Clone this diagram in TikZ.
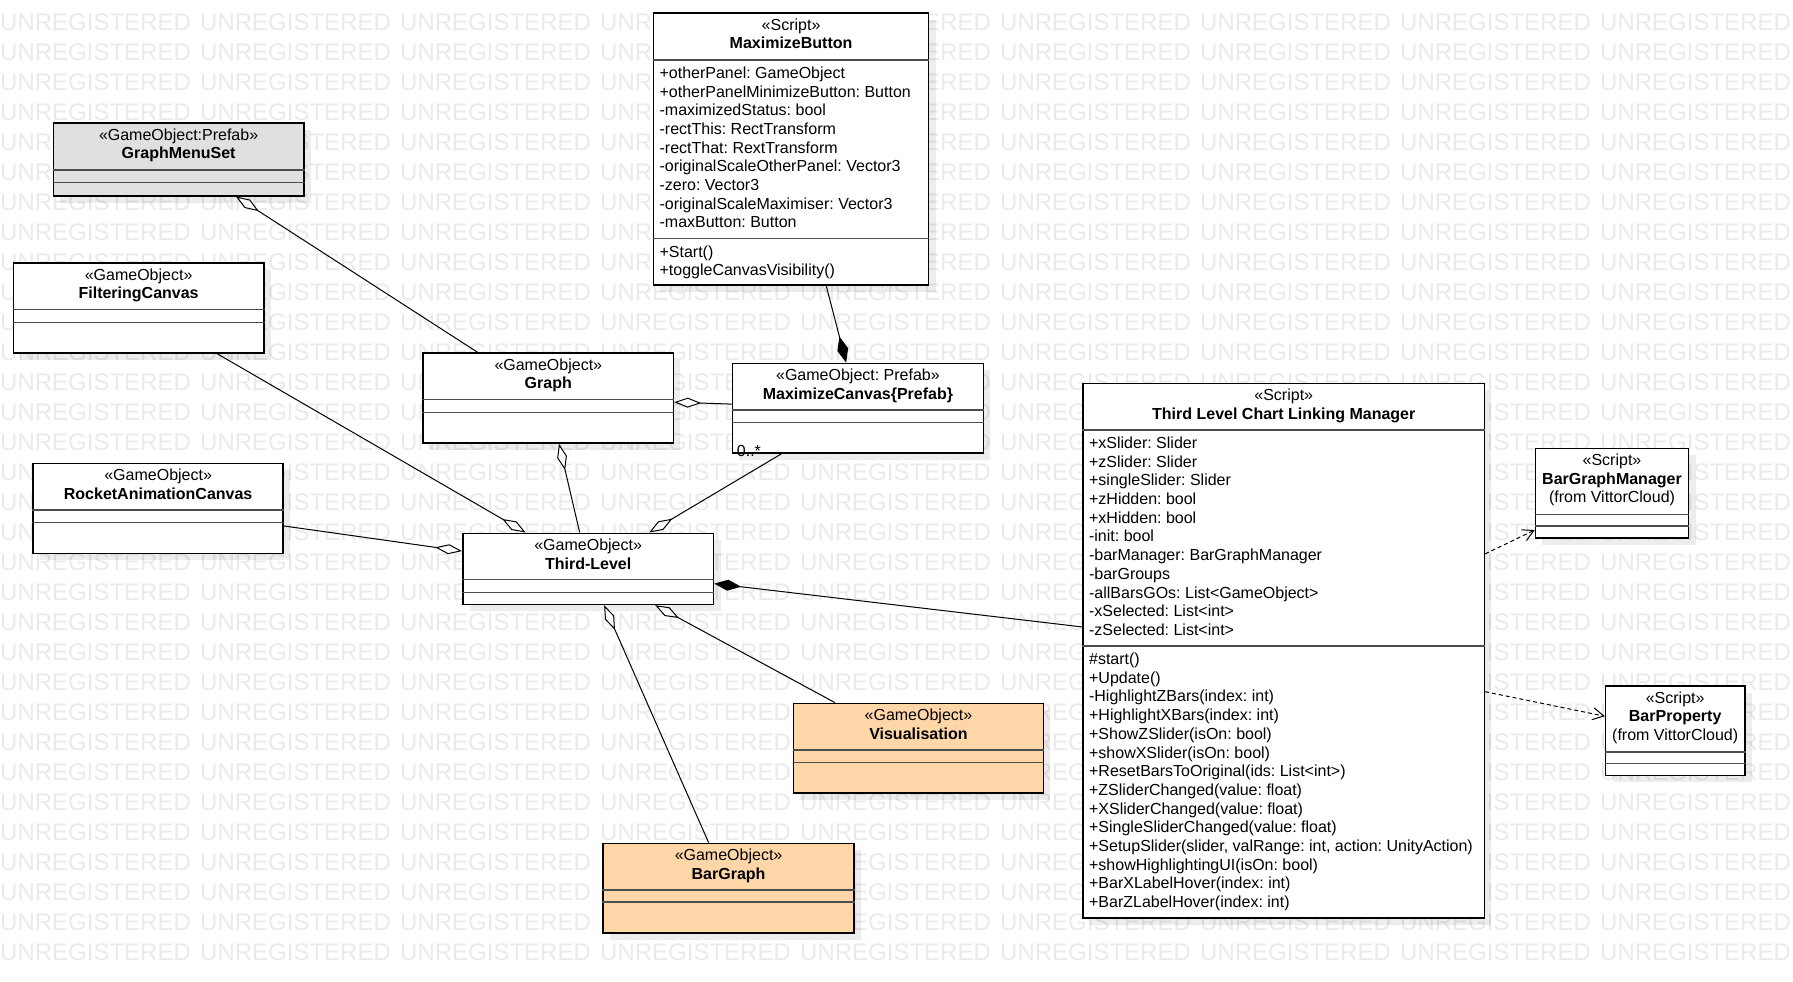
\documentclass[tikz,border=0pt]{standalone}
\usepackage{fontspec}
\setmainfont{Liberation Sans}
\usetikzlibrary{positioning,calc,arrows.meta,shadows}

\definecolor{peach}{RGB}{255,214,168}
\definecolor{prefabgray}{RGB}{224,224,224}
\definecolor{watermark}{RGB}{234,234,234}

\tikzset{
    classbox/.style = {draw=black, fill=white, line width=1.5pt, rectangle, inner sep=0pt,
        general shadow={fill=black, opacity=0.07, shadow xshift=7pt, shadow yshift=-7pt}},
    divider/.style = {draw=black!70, line width=1.5pt},
    classhead/.style = {align=center, inner sep=0pt, font=\fontsize{16}{18.5}\selectfont\frenchspacing},
    members/.style = {align=left, inner sep=0pt, font=\fontsize{16}{18.7}\selectfont\frenchspacing},
    aggr/.style = {line width=1pt, arrows={Diamond[length=27pt,width=10pt,fill=white]-}},
    compo/.style = {line width=1pt, arrows={Diamond[length=27pt,width=11pt]-}},
    depend/.style = {line width=1pt, dash pattern=on 4pt off 3pt, arrows={-Straight Barb[length=11pt,width=12pt]}},
    wmark/.style = {text=watermark, inner sep=0pt, anchor=base west, font=\fontsize{24}{24}\selectfont},
}

% name, style, x, y, width, height, 1st divider, 2nd divider, header
\newcommand{\umlclass}[9]{%
    \node[classbox, #2, minimum width=#5, minimum height=#6, anchor=north west] (#1) at (#3,#4) {};
    \coordinate (#1-a) at ($(#1.north west)+(0,#7)$);
    \coordinate (#1-b) at ($(#1.north west)+(0,#8)$);
    \draw[divider] (#1-a) -- (#1-a -| #1.east);
    \draw[divider] (#1-b) -- (#1-b -| #1.east);
    \node[classhead, below=6.3pt of #1.north] (#1-head) {#9};
}

\begin{document}
\begin{tikzpicture}[x=1pt, y=-1pt]
\fill[white] (0,0) rectangle (1793,982);
\useasboundingbox (0,0) rectangle (1793,982);

% background watermark (words hidden under a box are left out)
\foreach \r in {0,...,31}{
    \foreach \c in {0,...,8}{
        \pgfmathtruncatemacro{\hide}{(\c==6 && \r>12 && \r<30) || (\c==4 && \r>22 && \r<26)}
        \ifnum\hide=0
            \node[wmark] (wm-\r-\c) at (\c*200, 30.5+\r*30) {UNREGISTERED};
        \fi
    }
}

% classes
\umlclass{mbutton}{}{652.7}{12.3}{275.2}{272}{47.7}{226.4}{«Script»\\\textbf{MaximizeButton}}
\umlclass{menuset}{fill=prefabgray}{52.7}{122.3}{250.3}{72.7}{47.7}{60}{«GameObject:Prefab»\\\textbf{GraphMenuSet}}
\umlclass{filtering}{}{12.7}{262.3}{250.3}{90}{47.4}{60}{«GameObject»\\\textbf{FilteringCanvas}}
\umlclass{graph}{}{422.4}{352.3}{250.3}{90}{47.4}{60}{«GameObject»\\\textbf{Graph}}
\umlclass{maxcanvas}{}{731.7}{362.7}{251}{89.6}{47.3}{59.6}{«GameObject: Prefab»\\\textbf{MaximizeCanvas\{Prefab\}}}
\umlclass{rocket}{}{32.4}{462.6}{250}{89.9}{47.5}{59.7}{«GameObject»\\\textbf{RocketAnimationCanvas}}
\umlclass{third}{}{462}{532.5}{250.8}{71.2}{47.1}{60}{«GameObject»\\\textbf{Third-Level}}
\umlclass{vis}{fill=peach}{792.7}{702.5}{250}{89.5}{47.5}{60}{«GameObject»\\\textbf{Visualisation}}
\umlclass{bargraph}{fill=peach}{602.3}{842.6}{251}{89.4}{47.4}{59.4}{«GameObject»\\\textbf{BarGraph}}
\umlclass{manager}{}{1082.4}{382.5}{401.2}{534.6}{47.5}{263.6}{«Script»\\\textbf{Third Level Chart Linking Manager}}
\umlclass{bgmanager}{}{1534.7}{447.5}{153.1}{89.6}{66.8}{78.5}{«Script»\\\textbf{BarGraphManager}\\(from VittorCloud)}
\umlclass{barprop}{}{1604.8}{685}{139.2}{89.6}{67}{78.6}{«Script»\\\textbf{BarProperty}\\(from VittorCloud)}

% members
\node[members, below right=6.6pt and 6.7pt of mbutton-a] (mbutton-attrs) {+otherPanel: GameObject\\+otherPanelMinimizeButton: Button\\-maximizedStatus: bool\\-rectThis: RectTransform\\-rectThat: RextTransform\\-originalScaleOtherPanel: Vector3\\-zero: Vector3\\-originalScaleMaximiser: Vector3\\-maxButton: Button};
\node[members, below right=6.6pt and 6.7pt of mbutton-b] (mbutton-ops) {+Start()\\+toggleCanvasVisibility()};
\node[members, below right=6.6pt and 6.5pt of manager-a] (manager-attrs) {+xSlider: Slider\\+zSlider: Slider\\+singleSlider: Slider\\+zHidden: bool\\+xHidden: bool\\-init: bool\\-barManager: BarGraphManager\\-barGroups\\-allBarsGOs: List<GameObject>\\-xSelected: List<int>\\-zSelected: List<int>};
\node[members, below right=6.6pt and 6.5pt of manager-b] (manager-ops) {\#start()\\+Update()\\-HighlightZBars(index: int)\\+HighlightXBars(index: int)\\+ShowZSlider(isOn: bool)\\+showXSlider(isOn: bool)\\+ResetBarsToOriginal(ids: List<int>)\\+ZSliderChanged(value: float)\\+XSliderChanged(value: float)\\+SingleSliderChanged(value: float)\\+SetupSlider(slider, valRange: int, action: UnityAction)\\+showHighlightingUI(isOn: bool)\\+BarXLabelHover(index: int)\\+BarZLabelHover(index: int)};

% connectors
\draw[aggr] (menuset) -- (graph);
\draw[aggr] (graph) -- (maxcanvas);
\draw[aggr] (graph) -- (third);
\draw[aggr] (third) -- (filtering);
\draw[aggr] (third) -- (rocket);
\draw[aggr] (third) -- (maxcanvas);
\draw[aggr] (third) -- (bargraph);
\draw[aggr] (third) -- (vis);
\draw[compo] (maxcanvas) -- (mbutton);
\draw[compo] (third) -- (manager);
\draw[depend] (manager) -- (bgmanager);
\draw[depend] (manager) -- (barprop);
\node[members, anchor=base west, xshift=5pt, yshift=-3pt] (mult) at (maxcanvas.south west) {0..*};
\end{tikzpicture}
\end{document}
